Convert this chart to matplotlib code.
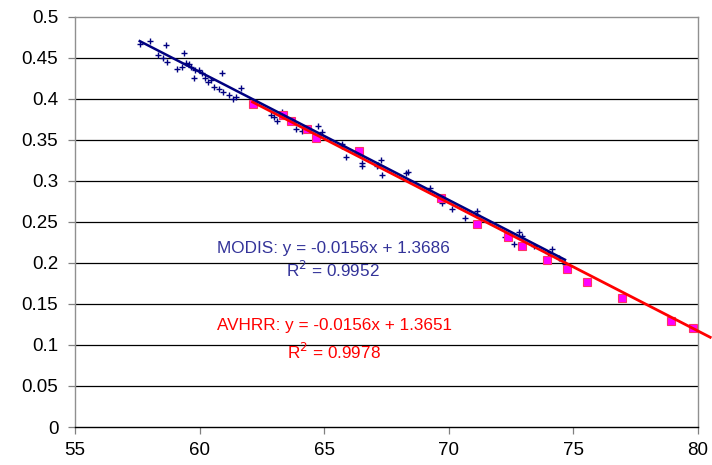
import matplotlib.pyplot as plt
import numpy as np

plt.rcParams["font.family"] = ["Liberation Sans", "DejaVu Sans"]

# MODIS samples (small navy crosses)
modis_x = [57.6, 58.0, 58.67, 58.33, 58.53, 58.69, 59.37, 59.1, 59.3, 59.47,
           59.57, 59.67, 59.8, 59.96, 60.09, 59.77, 60.2, 60.33, 60.47, 60.89,
           60.6, 60.77, 60.96, 61.2, 61.33, 61.67, 61.47, 62.87, 62.97, 63.09,
           63.33, 63.87, 64.13, 64.76, 64.93, 65.73, 65.73, 65.87, 66.53, 66.53,
           67.13, 67.27, 67.17, 67.33, 68.27, 68.37, 69.24, 69.73, 70.13, 70.64,
           71.13, 71.13, 72.27, 72.84, 72.93, 72.63, 73.44, 74.0, 74.13, 74.43,
           74.67]
modis_y = [0.466, 0.470, 0.465, 0.453, 0.449, 0.445, 0.455, 0.436, 0.438, 0.443,
           0.442, 0.439, 0.435, 0.435, 0.431, 0.425, 0.425, 0.420, 0.423, 0.431,
           0.414, 0.412, 0.408, 0.405, 0.400, 0.413, 0.402, 0.380, 0.378, 0.373,
           0.384, 0.363, 0.361, 0.367, 0.359, 0.345, 0.342, 0.329, 0.321, 0.318,
           0.318, 0.325, 0.319, 0.307, 0.309, 0.310, 0.291, 0.273, 0.266, 0.255,
           0.263, 0.258, 0.231, 0.237, 0.233, 0.223, 0.221, 0.212, 0.217, 0.206,
           0.199]

# AVHRR samples (magenta squares)
avhrr_x = [62.13, 63.36, 63.67, 64.31, 64.69, 66.4, 69.68, 71.13, 72.4, 72.93,
           73.96, 74.75, 75.56, 76.96, 78.93, 79.8]
avhrr_y = [0.394, 0.380, 0.373, 0.363, 0.352, 0.336, 0.279, 0.247, 0.232, 0.220,
           0.204, 0.192, 0.177, 0.157, 0.129, 0.121]

# linear fits as printed on the chart
modis_fit = (-0.0156, 1.3686)
avhrr_fit = (-0.0156, 1.3651)

x_ticks = [55, 60, 65, 70, 75, 80]
y_ticks = [0, 0.05, 0.1, 0.15, 0.2, 0.25, 0.3, 0.35, 0.4, 0.45, 0.5]

NAVY = "#000080"
TEXT_BLUE = "#333399"

fig = plt.figure(figsize=(7.12, 4.65), dpi=100)
ax = fig.add_axes([0.1053, 0.0817, 0.8747, 0.8828])

for yv in y_ticks[1:-1]:
    ax.axhline(yv, color="black", lw=0.9, zorder=1)

ax.plot(modis_x, modis_y, ls="none", marker="+", ms=4, mew=1.0, color=NAVY, zorder=3)
ax.plot(avhrr_x, avhrr_y, ls="none", marker="s", ms=5.5, mfc="#FF00FF",
        mec="#FF3366", mew=0.8, zorder=3)

xa = np.array([min(avhrr_x), 80.5])
ax.plot(xa, avhrr_fit[0] * xa + avhrr_fit[1], color="red", lw=2, zorder=4, clip_on=False)
xm = np.array([min(modis_x), max(modis_x)])
ax.plot(xm, modis_fit[0] * xm + modis_fit[1], color=NAVY, lw=1.8, zorder=5)

ax.text(65.36, 0.218, "MODIS: y = -0.0156x + 1.3686", color=TEXT_BLUE, fontsize=12.3,
        ha="center", va="center")
ax.text(65.36, 0.191, "R$^2$ = 0.9952", color=TEXT_BLUE, fontsize=12.3,
        ha="center", va="center")
ax.text(65.4, 0.124, "AVHRR: y = -0.0156x + 1.3651", color="red", fontsize=12.3,
        ha="center", va="center")
ax.text(65.4, 0.091, "R$^2$ = 0.9978", color="red", fontsize=12.3,
        ha="center", va="center")

ax.set_xlim(55, 80)
ax.set_ylim(0, 0.5)
ax.set_xticks(x_ticks)
ax.set_yticks(y_ticks)
ax.set_yticklabels([f"{v:g}" for v in y_ticks])
ax.tick_params(labelsize=13.5, length=5, width=0.9, colors="#808080", labelcolor="black")
ax.tick_params(axis="y", pad=7)
ax.tick_params(axis="x", pad=6)

for side in ["left", "right", "top"]:
    ax.spines[side].set_color("#909090")
    ax.spines[side].set_linewidth(1)
ax.spines["bottom"].set_color("black")
ax.spines["bottom"].set_linewidth(1)

fig.savefig("out.png", dpi=100)
